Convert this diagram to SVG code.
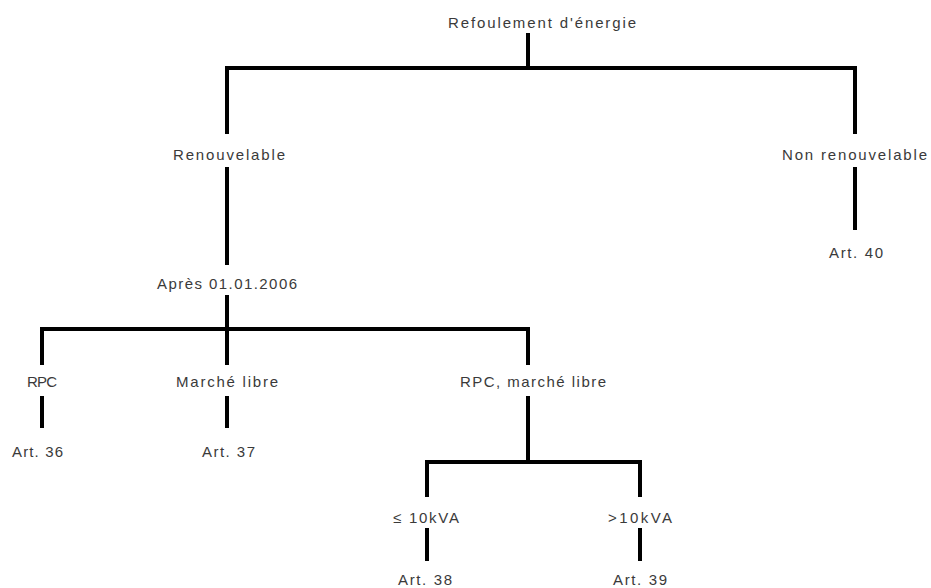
<svg xmlns="http://www.w3.org/2000/svg" width="931" height="588" viewBox="0 0 931 588">
<style>
  .lbl { font-family: "Liberation Sans", Arial, sans-serif; font-size: 15px; fill: #3a3a3a; text-anchor: middle; }
  .ln { fill: none; stroke: #000; stroke-width: 4; stroke-linecap: butt; stroke-linejoin: miter; }
</style>
<rect width="931" height="588" fill="#fff"/>
<g id="connectors">
  <path class="ln" d="M528 33 V68"/>
  <path class="ln" d="M227 134 V68 H855 V134"/>
  <path class="ln" d="M227 167 V265"/>
  <path class="ln" d="M855 167 V230"/>
  <path class="ln" d="M227 295 V365"/>
  <path class="ln" d="M42 365 V329 H528 V365"/>
  <path class="ln" d="M42 396 V428"/>
  <path class="ln" d="M227 396 V428"/>
  <path class="ln" d="M528 396 V462"/>
  <path class="ln" d="M427 497 V462 H640 V497"/>
  <path class="ln" d="M427 528 V561"/>
  <path class="ln" d="M640 528 V561"/>
</g>
<g id="n-root"><text class="lbl" x="542" y="28" textLength="188" lengthAdjust="spacing">Refoulement d'énergie</text></g>
<g id="n-renouvelable"><text class="lbl" x="229" y="160" textLength="112" lengthAdjust="spacing">Renouvelable</text></g>
<g id="n-non-renouvelable"><text class="lbl" x="854.5" y="160" textLength="145" lengthAdjust="spacing">Non renouvelable</text></g>
<g id="n-art40"><text class="lbl" x="856" y="258" textLength="54" lengthAdjust="spacing">Art. 40</text></g>
<g id="n-apres"><text class="lbl" x="227" y="289" textLength="140" lengthAdjust="spacing">Après 01.01.2006</text></g>
<g id="n-rpc"><text class="lbl" x="42" y="387" textLength="30" lengthAdjust="spacing">RPC</text></g>
<g id="n-marche"><text class="lbl" x="227" y="387" textLength="102" lengthAdjust="spacing">Marché libre</text></g>
<g id="n-rpc-marche"><text class="lbl" x="533" y="387" textLength="146" lengthAdjust="spacing">RPC, marché libre</text></g>
<g id="n-art36"><text class="lbl" x="37.5" y="457" textLength="51" lengthAdjust="spacing">Art. 36</text></g>
<g id="n-art37"><text class="lbl" x="228.5" y="457" textLength="53" lengthAdjust="spacing">Art. 37</text></g>
<g id="n-le10"><text class="lbl" x="426" y="523" textLength="66" lengthAdjust="spacing">≤ 10kVA</text></g>
<g id="n-gt10"><text class="lbl" x="640" y="523" textLength="64" lengthAdjust="spacing">&gt;10kVA</text></g>
<g id="n-art38"><text class="lbl" x="425" y="585" textLength="54" lengthAdjust="spacing">Art. 38</text></g>
<g id="n-art39"><text class="lbl" x="640" y="585" textLength="54" lengthAdjust="spacing">Art. 39</text></g>
</svg>
